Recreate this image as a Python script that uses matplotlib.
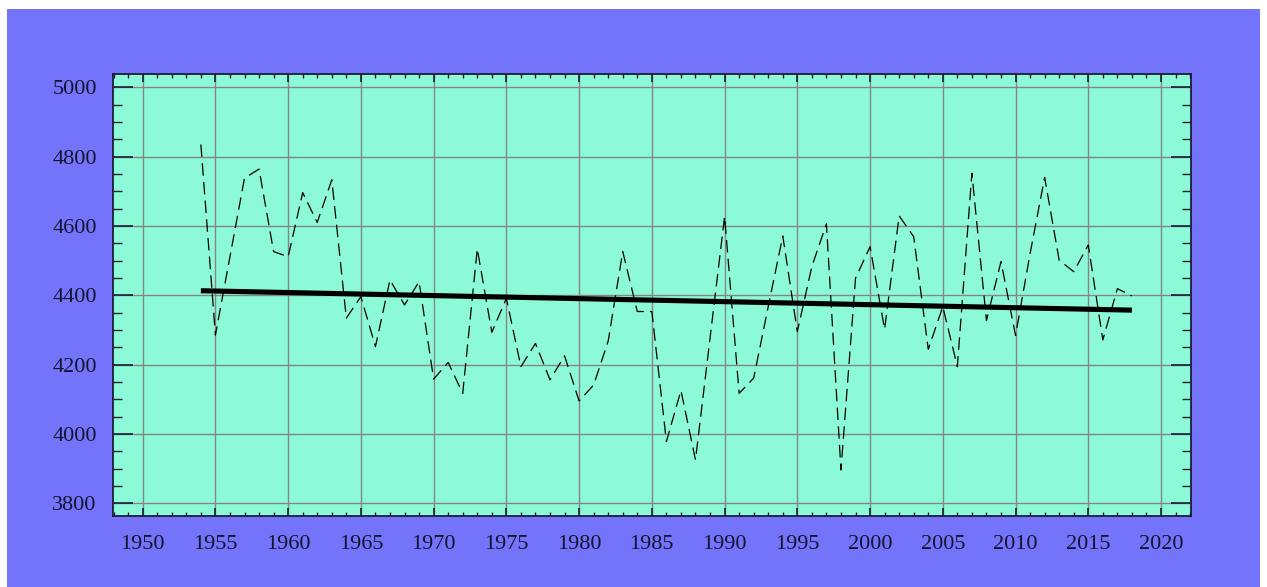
import matplotlib
matplotlib.use("Agg")
import matplotlib.pyplot as plt
from matplotlib.patches import Rectangle
from matplotlib.ticker import MultipleLocator

years = list(range(1954, 2019))
values = [
    4835, 4285, 4511, 4738, 4764, 4526, 4511, 4696, 4610, 4733,  # 1954-1963
    4334, 4396, 4252, 4444, 4372, 4439, 4158, 4206, 4117, 4534,  # 1964-1973
    4293, 4391, 4194, 4261, 4156, 4225, 4095, 4141, 4268, 4526,  # 1974-1983
    4353, 4353, 3978, 4125, 3925, 4276, 4627, 4117, 4161, 4367,  # 1984-1993
    4571, 4295, 4483, 4606, 3896, 4449, 4540, 4302, 4629, 4569,  # 1994-2003
    4244, 4367, 4194, 4752, 4327, 4497, 4284, 4520, 4740, 4501,  # 2004-2013
    4468, 4545, 4271, 4419, 4398,                                # 2014-2018
]
trend_years = [1954, 2018]
trend_values = [4413, 4357]

x_ticks = list(range(1950, 2021, 5))
y_ticks = list(range(3800, 5001, 200))

W, H = 1267, 587
fig = plt.figure(figsize=(W / 100, H / 100), dpi=100, facecolor="white")
# blue panel
bg = Rectangle((7 / W, 0), (1260 - 7) / W, (H - 9) / H,
               transform=fig.transFigure, facecolor="#7474fb",
               edgecolor="none", zorder=-10)
fig.add_artist(bg)

ax = fig.add_axes([112.7 / W, (H - 516) / H, (1190.7 - 112.7) / W, (516 - 74.3) / H])
ax.set_zorder(5)
ax.set_facecolor("#8cfad6")

ax.plot(years, values, color="black", lw=0.9, linestyle=(0, (10, 5)), zorder=3)
ax.plot(trend_years, trend_values, color="black", lw=3.7, solid_capstyle="butt", zorder=4)

ax.set_xlim(1947.94, 2022.04)
ax.set_ylim(3763, 5037.5)
ax.set_xticks(x_ticks)
ax.set_yticks(y_ticks)
ax.xaxis.set_minor_locator(MultipleLocator(1))
ax.yaxis.set_minor_locator(MultipleLocator(50))

ax.grid(True, which="major", color="#858585", lw=1.0)
ax.set_axisbelow(True)

navy = "#1c1c3c"
for s in ax.spines.values():
    s.set_color(navy)
    s.set_linewidth(1.3)

ax.tick_params(axis="y", which="major", direction="in", length=14.4, width=1.2,
               left=True, right=True, color=navy, pad=11.5)
ax.tick_params(axis="y", which="minor", direction="in", length=6.3, width=1.0,
               left=True, right=True, color=navy)
ax.tick_params(axis="x", which="major", direction="in", length=5.8, width=1.2,
               top=True, bottom=True, color=navy, pad=13.5)
ax.tick_params(axis="x", which="minor", direction="in", length=2.9, width=1.0,
               top=True, bottom=True, color=navy)

for lbl in ax.get_xticklabels() + ax.get_yticklabels():
    lbl.set_fontfamily("Liberation Serif")
    lbl.set_fontsize(16)
    lbl.set_color("#14142e")

fig.savefig("out.png", dpi=100, facecolor="white")
